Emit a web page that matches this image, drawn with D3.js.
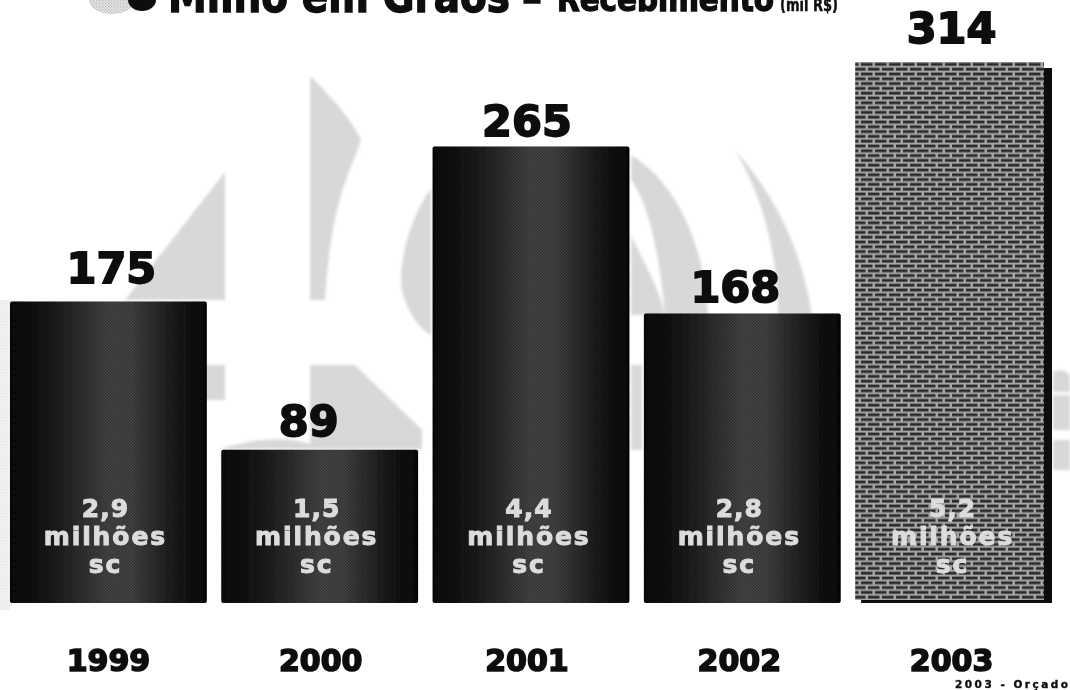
<!DOCTYPE html>
<html><head><meta charset="utf-8">
<script src="https://cdn.jsdelivr.net/npm/d3@7/dist/d3.min.js"></script>
<style>html,body{margin:0;padding:0;background:#fff;overflow:hidden}svg{display:block}</style>
</head><body><div id="c"></div>
<script>
const years = ["1999","2000","2001","2002","2003"];
const values = [175,89,265,168,314];
const sacks = ["2,9","1,5","4,4","2,8","5,2"];
const unitLines = ["milhões","sc"];
const budgeted = ["2003"];
const titleMain = "Milho em Grãos";
const titleSep = "–";
const titleSub = "Recebimento";
const titleUnit = "(mil R$)";
const footnote = "2003 - Orçado";

const W=1070,H=690;
const svg=d3.select("#c").append("svg").attr("width",W).attr("height",H).attr("viewBox",`0 0 ${W} ${H}`);
const defs=svg.append("defs");
const x=d3.scaleBand().domain(years).range([10,1052]).paddingInner(0.0686).paddingOuter(0);
const y=d3.scaleLinear().domain([0,314]).range([603,62]);

const g=defs.append("linearGradient").attr("id","cyl");
[[0,"#070707"],[.2,"#1a1a1a"],[.5,"#484848"],[.62,"#464646"],[.85,"#1a1a1a"],[1,"#060606"]]
 .forEach(d=>g.append("stop").attr("offset",d[0]).attr("stop-color",d[1]));
const ht=defs.append("pattern").attr("id","ht").attr("width",3).attr("height",3).attr("patternUnits","userSpaceOnUse");
ht.append("rect").attr("width",3).attr("height",3).attr("fill","#ececec");
ht.append("rect").attr("width",1.5).attr("height",1.5).attr("fill","#bcbcbc");
ht.append("rect").attr("x",1.5).attr("y",1.5).attr("width",1.5).attr("height",1.5).attr("fill","#c8c8c8");
const gr=defs.append("pattern").attr("id","gr").attr("width",3).attr("height",3).attr("patternUnits","userSpaceOnUse");
gr.append("rect").attr("width",1.5).attr("height",1.5).attr("fill","#000").attr("opacity",.3);
gr.append("rect").attr("x",1.5).attr("y",1.5).attr("width",1.5).attr("height",1.5).attr("fill","#000").attr("opacity",.3);
const br=defs.append("pattern").attr("id","brick").attr("width",14).attr("height",9.6).attr("patternUnits","userSpaceOnUse");
br.append("rect").attr("width",14).attr("height",9.6).attr("fill","#a6a6a6");
br.append("rect").attr("x",0).attr("y",0.6).attr("width",11.5).attr("height",2.8).attr("fill","#2a2a2a");
br.append("rect").attr("x",7).attr("y",5.4).attr("width",7).attr("height",2.8).attr("fill","#2a2a2a");
br.append("rect").attr("x",0).attr("y",5.4).attr("width",4.5).attr("height",2.8).attr("fill","#2a2a2a");
const b=defs.append("filter").attr("id","soft").attr("x","-5%").attr("y","-5%").attr("width","110%").attr("height","110%");
b.append("feGaussianBlur").attr("stdDeviation",.6);
const b2=defs.append("filter").attr("id","softer").attr("x","-5%").attr("y","-5%").attr("width","110%").attr("height","110%");
b2.append("feGaussianBlur").attr("stdDeviation",1.4);

const wm=svg.append("g").attr("fill","url(#ht)").attr("filter","url(#softer)");
["M225,172 L225,300 L125,300 Z",
 "M310,76 C335,100 355,125 361,140 C350,175 332,195 325,300 L310,300 Z",
 "M205,365 L225,365 L225,400 L205,400 Z",
 "M310,365 L355,365 L422,430 L422,449 L310,449 Z",
 "M220,449 C260,436 300,436 320,449 Z",
 "M631,155 C680,185 705,250 708,315 L665,315 C660,260 650,205 631,180 Z",
 "M631,235 C645,265 660,290 665,315 L631,315 Z",
 "M735,150 C770,190 800,240 812,315 L778,315 C778,260 765,200 735,150 Z",
 "M431,188 C405,225 395,280 405,300 C412,320 422,330 431,335 Z",
 "M631,365 L642,365 L642,450 L631,450 Z",
 "M1053,372 C1062,368 1068,372 1070,376 L1070,392 L1053,392 Z",
 "M1053,395 L1070,395 L1070,430 L1053,430 Z",
 "M1053,440 L1070,440 L1070,470 L1053,470 Z"
].forEach(d=>wm.append("path").attr("d",d));
svg.append("rect").attr("x",0).attr("y",300).attr("width",10).attr("height",310).attr("fill","url(#ht)").attr("opacity",.4);

const logo=svg.append("g").attr("filter","url(#soft)");
logo.append("ellipse").attr("cx",112).attr("cy",0).attr("rx",23).attr("ry",14).attr("fill","url(#ht)");
logo.append("ellipse").attr("cx",142).attr("cy",0).attr("rx",14).attr("ry",11).attr("fill","#111");

const T=svg.append("g").attr("filter","url(#soft)").attr("fill","#0a0a0a").attr("stroke","#0a0a0a").attr("stroke-width",1.4).attr("font-family","DejaVu Sans").attr("font-weight",700);
T.append("text").attr("x",168).attr("y",12).attr("font-size",46).attr("textLength",342).attr("lengthAdjust","spacingAndGlyphs").text(titleMain);
T.append("text").attr("x",522).attr("y",12).attr("font-size",40).text(titleSep);
T.append("text").attr("x",557).attr("y",11).attr("font-size",33).attr("textLength",217).attr("lengthAdjust","spacingAndGlyphs").text(titleSub);
T.append("text").attr("x",780).attr("y",11).attr("font-size",17).attr("stroke-width",.4).attr("textLength",58).attr("lengthAdjust","spacingAndGlyphs").text(titleUnit);

const bars=svg.append("g").attr("filter","url(#soft)");
const bw=x.bandwidth();
years.forEach((yr,i)=>{
  const top=y(values[i]),bot=y(0),l=x(yr);
  if(budgeted.includes(yr)){
    bars.append("rect").attr("x",l+6).attr("y",top+6).attr("width",bw-6).attr("height",bot-top-6).attr("fill","#080808");
    bars.append("rect").attr("x",l).attr("y",top).attr("width",bw-8).attr("height",bot-top-3).attr("fill","url(#brick)");
  }else{
    bars.append("rect").attr("x",l).attr("y",top).attr("width",bw).attr("height",bot-top).attr("rx",2).attr("fill","url(#cyl)");
    bars.append("rect").attr("x",l).attr("y",top).attr("width",bw).attr("height",bot-top).attr("rx",2).attr("fill","url(#gr)");
  }
});

const labelDx=[3,-11,-4,-7,-2], labelGap=[18,14,10,12,19], yearDx=[0,1,-4,-3,-2], innerDx=[-3,-3,-2,-3,-1];
const L=svg.append("g").attr("filter","url(#soft)").attr("font-family","DejaVu Sans").attr("font-weight",700).attr("text-anchor","middle");
years.forEach((yr,i)=>{
  const c=x(yr)+bw/2;
  L.append("text").attr("x",c+labelDx[i]).attr("y",y(values[i])-labelGap[i]).attr("font-size",43).attr("fill","#0a0a0a").attr("stroke","#0a0a0a").attr("stroke-width",1.8).text(values[i]);
  L.append("text").attr("x",c+yearDx[i]).attr("y",671).attr("font-size",30).attr("fill","#0a0a0a").attr("stroke","#0a0a0a").attr("stroke-width",1.6).text(yr);
  const fill="#dcdcdc";
  L.append("text").attr("x",c+innerDx[i]).attr("y",517).attr("font-size",25).attr("letter-spacing",1).attr("fill",fill).attr("stroke",fill).attr("stroke-width",1).text(sacks[i]);
  unitLines.forEach((u,k)=>L.append("text").attr("x",c+innerDx[i]).attr("y",545+28*k).attr("font-size",25).attr("letter-spacing",1.9).attr("fill",fill).attr("stroke",fill).attr("stroke-width",1).text(u));
});
svg.append("text").attr("x",955).attr("y",688).attr("font-family","DejaVu Sans").attr("font-weight",700).attr("font-size",10.5).attr("letter-spacing",2.5).attr("fill","#111").attr("stroke","#111").attr("stroke-width",.4).attr("filter","url(#soft)").text(footnote);
</script></body></html>
